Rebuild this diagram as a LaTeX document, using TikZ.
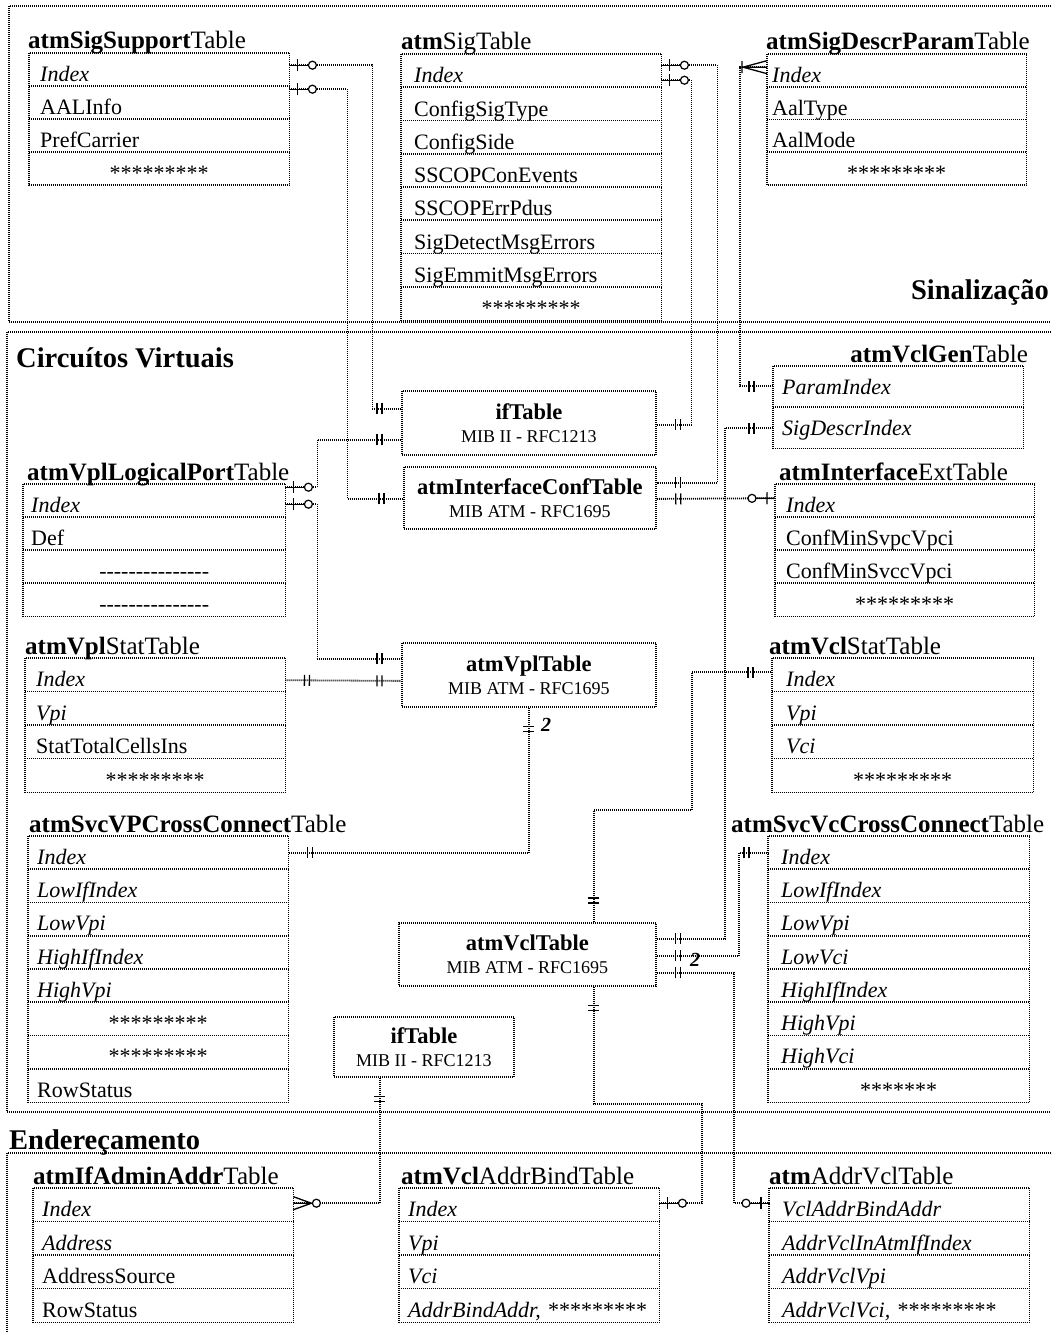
\documentclass[tikz,border=0pt]{standalone}
\usepackage{fontspec}
\setmainfont{Liberation Serif}
\usetikzlibrary{decorations.markings}

% ---------- relationship end symbols (entity at x=0, line arrives from x<0) ----------
\newcommand\mOne{\draw[solid,line width=1.3pt] (-19pt,-5.5pt)--(-19pt,5.5pt) (-24pt,-5.5pt)--(-24pt,5.5pt);}
\newcommand\mZeroOne{\draw[solid,line width=1.3pt] (-8pt,-6pt)--(-8pt,6pt) (0pt,0pt)--(-19pt,0pt);
  \draw[solid,line width=1.2pt,fill=white] (-23pt,0pt) circle (4pt);}
\newcommand\mCrowOne{\draw[solid,line width=1.3pt] (-25pt,-6pt)--(-25pt,6pt)
  (0pt,-6.5pt)--(-24pt,0pt)--(0pt,6.5pt) (-25pt,0pt)--(0pt,0pt);}
\newcommand\mCrowZero{\draw[solid,line width=1.3pt] (0pt,-6.5pt)--(-18pt,0pt)--(0pt,6.5pt) (-19pt,0pt)--(0pt,0pt);
  \draw[solid,line width=1.2pt,fill=white] (-23pt,0pt) circle (4pt);}

\newcommand\erStars{*********}
\newcommand\erStarsShort{*******}
\newcommand\erD{\mbox{-}}
\newcommand\erDashes{\erD\erD\erD\erD\erD\erD\erD\erD\erD\erD\erD\erD\erD\erD\erD}
\newcommand\erCenter[1]{\makebox[\hsize]{#1}}
\newcommand\subf{\fontsize{18}{23}\selectfont\mdseries}

\tikzset{
  ln/.style={line width=1.8pt, dash pattern=on 1pt off 1pt},
  conn/.style={ln},
  rowbox/.style={inner ysep=0pt, align=left, font=\fontsize{22}{24}\selectfont},
  ttl/.style={inner sep=0pt, font=\fontsize{25}{26}\selectfont},
  bx/.style={draw, ln, align=center, inner sep=0pt, font=\fontsize{22.5}{23}\selectfont\bfseries},
  sect/.style={inner sep=0pt, font=\fontsize{28.5}{30}\selectfont\bfseries},
  card/.style={inner sep=0pt, font=\fontsize{20}{20}\selectfont\bfseries\itshape},
  mk start/.style={postaction={decorate, decoration={markings,
      mark=at position 0.01pt with {\begin{scope}[xscale=-1]#1\end{scope}}}}},
  mk end/.style={postaction={decorate, decoration={markings,
      mark=at position -0.01pt with {#1}}}},
}

% table of rows: #1 name, #2 left, #3 top, #4 right, #5 bottom, #6 rows,
% #7 baseline offset, #8 side padding, #9 row texts
\newcommand\erTable[9]{%
  \pgfmathsetmacro\erRH{(#5-#3)/#6}%
  \pgfmathsetmacro\erTW{#4-#2-2*#8}%
  \pgfmathsetmacro\erTH{(#5-#3)/#6-#7}%
  \foreach \rowtxt [count=\ri] in {#9} {%
    \node[rowbox, inner xsep=#8pt, text width=\erTW pt, text height=\erTH pt,
          text depth=#7pt, anchor=north west]
      (#1-\ri) at (#2, {#3+(\ri-1)*\erRH}) {\mbox{\rowtxt}};
  }%
  \draw[ln] (#1-1.north west) rectangle (#1-#6.south east);
  \foreach \k in {2,...,#6} {\draw[ln] (#1-\k.north west) -- (#1-\k.north east);}%
}

\begin{document}
\begin{tikzpicture}[x=1pt,y=-1pt]
\useasboundingbox (0,0) rectangle (1051,1332);

% ---------- section frames ----------
\draw[ln] (1051,6) -- (9,6) -- (9,322) -- (1051,322);
\draw[ln] (1051,332) -- (7,332) -- (7,1112) -- (1051,1112);
\draw[ln] (1051,1153) -- (7,1153) -- (7,1332);

\node[sect, anchor=base east] (h-sig) at (1049,299) {Sinalização};
\node[sect, anchor=base west] (h-vc)  at (16,367)  {Circuítos Virtuais};
\node[sect, anchor=base west] (h-end) at (9,1149)  {Endereçamento};

% ---------- signalling tables ----------
\erTable{sigsup}{29}{53}{289}{185}{4}{4.5}{11}{{\textit{Index}},{AALInfo},{PrefCarrier},{\erCenter{\erStars}}}
\node[ttl, anchor=base west] (sigsup-t) at (28,49) {\textbf{atmSigSupport}Table};

\erTable{sig}{401}{54}{661}{320}{8}{4.5}{13}{{\textit{Index}},{ConfigSigType},{ConfigSide},{SSCOPConEvents},{SSCOPErrPdus},{SigDetectMsgErrors},{SigEmmitMsgErrors},{\erCenter{\erStars}}}
\node[ttl, anchor=base west] (sig-t) at (401,50) {\textbf{atm}SigTable};

\erTable{sigdescr}{767}{54}{1026}{185}{4}{4.5}{5}{{\textit{Index}},{AalType},{AalMode},{\erCenter{\erStars}}}
\node[ttl, anchor=base west] (sigdescr-t) at (766,50) {\textbf{atmSigDescrParam}Table};

% ---------- virtual circuit tables ----------
\erTable{vclgen}{773}{366}{1023}{448}{2}{13}{9}{{\textit{ParamIndex}},{\textit{SigDescrIndex}}}
\node[ttl, anchor=base east] (vclgen-t) at (1028,362) {\textbf{atmVclGen}Table};

\erTable{vplport}{23}{484}{285}{616}{4}{5}{8}{{\textit{Index}},{Def},{\erCenter{\erDashes}},{\erCenter{\erDashes}}}
\node[ttl, anchor=base west] (vplport-t) at (27,480) {\textbf{atmVplLogicalPort}Table};

\erTable{ifext}{775}{484}{1034}{616}{4}{5}{11}{{\textit{Index}},{ConfMinSvpcVpci},{ConfMinSvccVpci},{\erCenter{\erStars}}}
\node[ttl, anchor=base west] (ifext-t) at (779,480) {\textbf{atmInterface}ExtTable};

\erTable{vplstat}{25}{658}{285}{792}{4}{5}{11}{{\textit{Index}},{\textit{Vpi}},{StatTotalCellsIns},{\erCenter{\erStars}}}
\node[ttl, anchor=base west] (vplstat-t) at (25,654) {\textbf{atmVpl}StatTable};

\erTable{vclstat}{772}{658}{1033}{792}{4}{5}{14}{{\textit{Index}},{\textit{Vpi}},{\textit{Vci}},{\erCenter{\erStars}}}
\node[ttl, anchor=base west] (vclstat-t) at (769,654) {\textbf{atmVcl}StatTable};

\erTable{svcvp}{28}{836}{288}{1102}{8}{5}{9}{{\textit{Index}},{\textit{LowIfIndex}},{\textit{LowVpi}},{\textit{HighIfIndex}},{\textit{HighVpi}},{\erCenter{\erStars}},{\erCenter{\erStars}},{RowStatus}}
\node[ttl, anchor=base west] (svcvp-t) at (29,832) {\textbf{atmSvcVPCrossConnect}Table};

\erTable{svcvc}{768}{836}{1029}{1102}{8}{5}{13}{{\textit{Index}},{\textit{LowIfIndex}},{\textit{LowVpi}},{\textit{LowVci}},{\textit{HighIfIndex}},{\textit{HighVpi}},{\textit{HighVci}},{\erCenter{\erStarsShort}}}
\node[ttl, anchor=base west] (svcvc-t) at (731,832) {\textbf{atmSvcVcCrossConnect}Table};

% ---------- addressing tables ----------
\erTable{ifadmin}{33}{1188}{293}{1322}{4}{5}{9}{{\textit{Index}},{\textit{Address}},{AddressSource},{RowStatus}}
\node[ttl, anchor=base west] (ifadmin-t) at (33,1184) {\textbf{atmIfAdminAddr}Table};

\erTable{addrbind}{399}{1188}{659}{1322}{4}{5}{9}{{\textit{Index}},{\textit{Vpi}},{\textit{Vci}},{\textit{AddrBindAddr,} \erStars}}
\node[ttl, anchor=base west] (addrbind-t) at (401,1184) {\textbf{atmVcl}AddrBindTable};

\erTable{addrvcl}{769}{1188}{1029}{1322}{4}{5}{13}{{\textit{VclAddrBindAddr}},{\textit{AddrVclInAtmIfIndex}},{\textit{AddrVclVpi}},{\textit{AddrVclVci,} \erStars}}
\node[ttl, anchor=base west] (addrvcl-t) at (769,1184) {\textbf{atm}AddrVclTable};

% ---------- standard MIB tables ----------
\node[bx, minimum width=254pt, minimum height=64pt, anchor=north west] (iftop) at (401,390)
  {ifTable\\{\subf MIB II - RFC1213}};
\node[bx, minimum width=252pt, minimum height=62pt, anchor=north west] (ifconf) at (403,466)
  {atmInterfaceConfTable\\{\subf MIB ATM - RFC1695}};
\node[bx, minimum width=254pt, minimum height=64pt, anchor=north west] (vpltab) at (401,642)
  {atmVplTable\\{\subf MIB ATM - RFC1695}};
\node[bx, minimum width=257pt, minimum height=63pt, anchor=north west] (vcltab) at (398,922)
  {atmVclTable\\{\subf MIB ATM - RFC1695}};
\node[bx, minimum width=180pt, minimum height=60pt, anchor=north west] (ifbot) at (333,1016)
  {ifTable\\{\subf MIB II - RFC1213}};

% ---------- relationships ----------
\draw[conn, mk start=\mZeroOne, mk end=\mOne]
  ([yshift=4.5pt]sigsup-1.east) -- ++(83,0) |- ([yshift=14pt]iftop.west);
\draw[conn, mk start=\mZeroOne, mk end=\mOne]
  ([yshift=-19.5pt]sigsup-1.east) -- ++(58,0) |- ([yshift=-1pt]ifconf.west);
\draw[conn, mk start=\mZeroOne, mk end=\mOne]
  ([yshift=5.6pt]sig-1.east) -- ++(56,0) |- ([yshift=15pt]ifconf.east);
\draw[conn, mk start=\mZeroOne, mk end=\mOne]
  ([yshift=-9.4pt]sig-1.east) -- ++(30,0) |- ([yshift=-2pt]iftop.east);
\draw[conn, mk start=\mOne, mk end=\mCrowOne]
  ([yshift=0.5pt]vclgen-1.west) -- ++(-33,0) |- ([yshift=3.4pt]sigdescr-1.west);
\draw[conn, mk start=\mOne, mk end=\mZeroOne]
  ([yshift=-1pt]ifconf.east) -- ([yshift=2.5pt]ifext-1.west);
\draw[conn, mk start=\mOne, mk end=\mOne]
  ([yshift=-0.5pt]vclgen-2.west) -- ++(-48,0) |- ([yshift=15.5pt]vcltab.east);
\draw[conn, mk start=\mZeroOne, mk end=\mOne]
  ([yshift=13.5pt]vplport-1.east) -- ++(32,0) |- ([yshift=-17pt]iftop.west);
\draw[conn, mk start=\mZeroOne, mk end=\mOne]
  ([yshift=-3.5pt]vplport-1.east) -- ++(32,0) |- ([yshift=16pt]vpltab.west);
\draw[conn, mk start=\mOne, mk end=\mOne]
  ([yshift=-5.25pt]vplstat-1.east) -- ([yshift=-6pt]vpltab.west);
\draw[conn, mk start=\mOne, mk end=\mOne]
  (vpltab.south) |- (svcvp-1.east);
\draw[conn, mk start=\mOne, mk end=\mOne]
  ([xshift=66.5pt]vcltab.north) -- ++(0,-112) -- ++(98,0) |- ([yshift=2.75pt]vclstat-1.west);
\draw[conn, mk start=\mOne, mk end=\mOne]
  ([yshift=-1.5pt]vcltab.east) -- ++(82,0) |- (svcvc-1.west);
\draw[conn, mk start=\mOne, mk end=\mZeroOne]
  ([yshift=-18.5pt]vcltab.east) -- ++(77,0) |- ([yshift=1.75pt]addrvcl-1.west);
\draw[conn, mk start=\mOne, mk end=\mZeroOne]
  ([xshift=66.5pt]vcltab.south) -- ++(0,117) -- ++(108,0) |- ([yshift=1.75pt]addrbind-1.east);
\draw[conn, mk start=\mOne, mk end=\mCrowZero]
  ([xshift=-44pt]ifbot.south) |- ([yshift=1.75pt]ifadmin-1.east);

% cardinality labels
\node[card] (card-vp) at (546,725) {2};
\node[card] (card-vc) at (695,960) {2};

\end{tikzpicture}
\end{document}
